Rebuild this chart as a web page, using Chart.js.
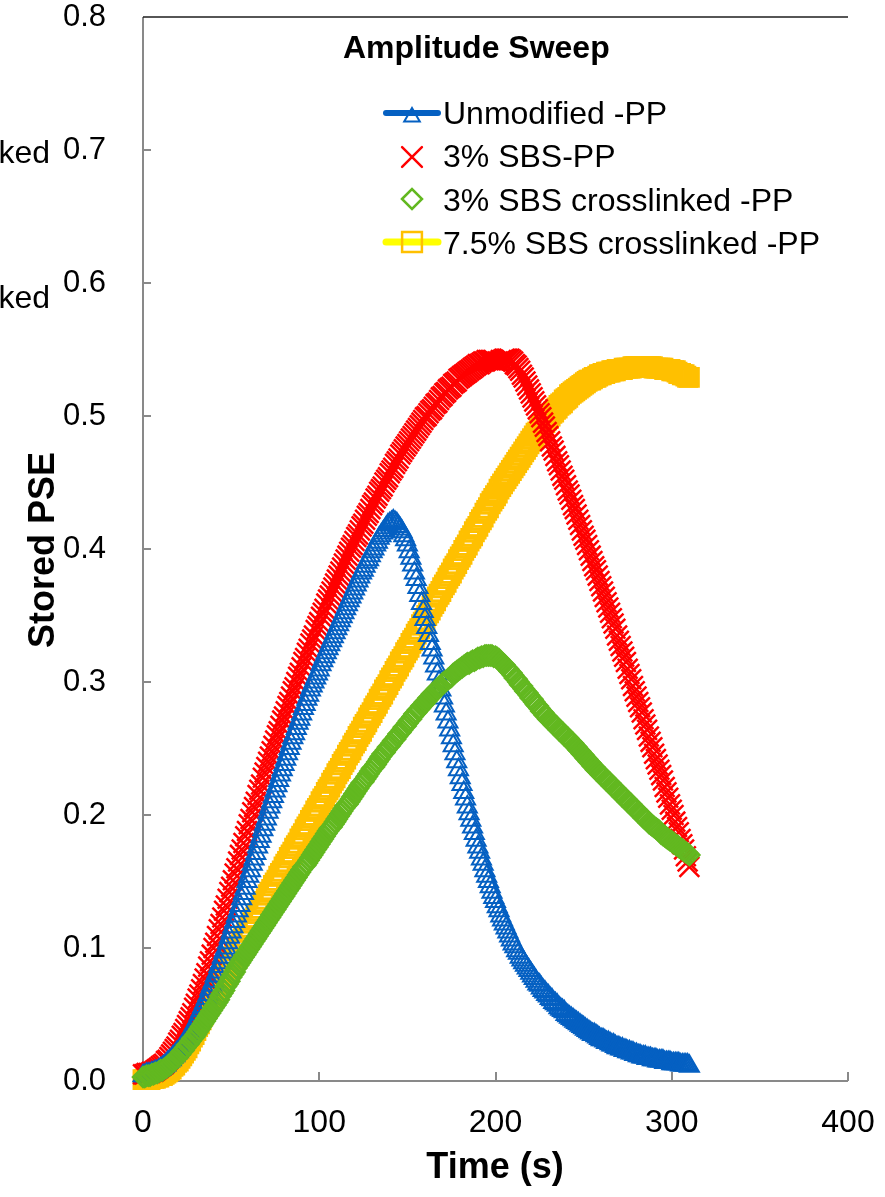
<!DOCTYPE html>
<html>
<head>
<meta charset="utf-8">
<script src="https://cdn.jsdelivr.net/npm/chart.js@4.4.0/dist/chart.umd.min.js"></script>
<style>
  html, body { margin: 0; padding: 0; background: #fff; }
  canvas { display: block; }
</style>
</head>
<body>
<canvas id="sweepChart" width="885" height="1197"></canvas>
<script>
// sample times (s)
const timeSec = [
  0, 1, 2, 3, 4, 5, 6, 7, 8, 9, 10, 11, 12, 13, 14, 15, 16, 17, 18, 19,
  20, 21, 22, 23, 24, 25, 26, 27, 28, 29, 30, 31, 32, 33, 34, 35, 36, 37, 38, 39,
  40, 41, 42, 43, 44, 45, 46, 47, 48, 49, 50, 51, 52, 53, 54, 55, 56, 57, 58, 59,
  60, 61, 62, 63, 64, 65, 66, 67, 68, 69, 70, 71, 72, 73, 74, 75, 76, 77, 78, 79,
  80, 81, 82, 83, 84, 85, 86, 87, 88, 89, 90, 91, 92, 93, 94, 95, 96, 97, 98, 99,
  100, 101, 102, 103, 104, 105, 106, 107, 108, 109, 110, 111, 112, 113, 114, 115, 116, 117, 118, 119,
  120, 121, 122, 123, 124, 125, 126, 127, 128, 129, 130, 131, 132, 133, 134, 135, 136, 137, 138, 139,
  140, 141, 142, 143, 144, 145, 146, 147, 148, 149, 150, 151, 152, 153, 154, 155, 156, 157, 158, 159,
  160, 161, 162, 163, 164, 165, 166, 167, 168, 169, 170, 171, 172, 173, 174, 175, 176, 177, 178, 179,
  180, 181, 182, 183, 184, 185, 186, 187, 188, 189, 190, 191, 192, 193, 194, 195, 196, 197, 198, 199,
  200, 201, 202, 203, 204, 205, 206, 207, 208, 209, 210, 211, 212, 213, 214, 215, 216, 217, 218, 219,
  220, 221, 222, 223, 224, 225, 226, 227, 228, 229, 230, 231, 232, 233, 234, 235, 236, 237, 238, 239,
  240, 241, 242, 243, 244, 245, 246, 247, 248, 249, 250, 251, 252, 253, 254, 255, 256, 257, 258, 259,
  260, 261, 262, 263, 264, 265, 266, 267, 268, 269, 270, 271, 272, 273, 274, 275, 276, 277, 278, 279,
  280, 281, 282, 283, 284, 285, 286, 287, 288, 289, 290, 291, 292, 293, 294, 295, 296, 297, 298, 299,
  300, 301, 302, 303, 304, 305, 306, 307, 308, 309, 310
];

// stored PSE, one value per second
const unmodifiedPP = [
  0.004, 0.004, 0.005, 0.005, 0.005, 0.006, 0.006, 0.007, 0.007, 0.008,
  0.009, 0.010, 0.011, 0.012, 0.014, 0.015, 0.016, 0.018, 0.019, 0.021,
  0.022, 0.024, 0.026, 0.028, 0.030, 0.032, 0.035, 0.037, 0.039, 0.042,
  0.044, 0.047, 0.050, 0.053, 0.056, 0.059, 0.062, 0.065, 0.069, 0.072,
  0.075, 0.079, 0.082, 0.086, 0.089, 0.093, 0.097, 0.100, 0.104, 0.108,
  0.112, 0.116, 0.120, 0.124, 0.128, 0.132, 0.137, 0.141, 0.145, 0.150,
  0.154, 0.158, 0.163, 0.167, 0.171, 0.176, 0.180, 0.184, 0.189, 0.193,
  0.197, 0.202, 0.206, 0.210, 0.214, 0.218, 0.222, 0.226, 0.230, 0.234,
  0.238, 0.242, 0.246, 0.250, 0.254, 0.258, 0.261, 0.265, 0.269, 0.272,
  0.276, 0.280, 0.283, 0.287, 0.290, 0.294, 0.297, 0.300, 0.303, 0.306,
  0.309, 0.313, 0.316, 0.319, 0.322, 0.325, 0.328, 0.331, 0.334, 0.337,
  0.340, 0.343, 0.346, 0.349, 0.352, 0.355, 0.358, 0.361, 0.364, 0.367,
  0.370, 0.373, 0.376, 0.379, 0.382, 0.384, 0.387, 0.390, 0.392, 0.395,
  0.398, 0.400, 0.403, 0.405, 0.408, 0.410, 0.412, 0.414, 0.416, 0.418,
  0.419, 0.420, 0.421, 0.420, 0.419, 0.417, 0.415, 0.413, 0.410, 0.407,
  0.403, 0.398, 0.393, 0.388, 0.382, 0.377, 0.371, 0.365, 0.359, 0.353,
  0.347, 0.341, 0.335, 0.329, 0.324, 0.318, 0.312, 0.306, 0.300, 0.294,
  0.288, 0.282, 0.276, 0.270, 0.264, 0.258, 0.252, 0.246, 0.240, 0.234,
  0.228, 0.223, 0.217, 0.212, 0.206, 0.201, 0.196, 0.191, 0.186, 0.181,
  0.176, 0.172, 0.167, 0.163, 0.158, 0.154, 0.150, 0.146, 0.142, 0.138,
  0.135, 0.131, 0.128, 0.124, 0.121, 0.118, 0.115, 0.112, 0.109, 0.106,
  0.103, 0.101, 0.098, 0.096, 0.093, 0.091, 0.089, 0.087, 0.085, 0.083,
  0.081, 0.079, 0.077, 0.075, 0.073, 0.072, 0.070, 0.068, 0.067, 0.065,
  0.064, 0.062, 0.061, 0.059, 0.058, 0.057, 0.055, 0.054, 0.053, 0.052,
  0.050, 0.049, 0.048, 0.047, 0.046, 0.045, 0.044, 0.043, 0.042, 0.041,
  0.040, 0.039, 0.038, 0.037, 0.036, 0.035, 0.035, 0.034, 0.033, 0.032,
  0.031, 0.031, 0.030, 0.029, 0.029, 0.028, 0.027, 0.027, 0.026, 0.025,
  0.025, 0.024, 0.024, 0.023, 0.023, 0.022, 0.022, 0.021, 0.021, 0.020,
  0.020, 0.019, 0.019, 0.018, 0.018, 0.018, 0.017, 0.017, 0.017, 0.016,
  0.016, 0.016, 0.015, 0.015, 0.015, 0.015, 0.014, 0.014, 0.014, 0.014,
  0.013, 0.013, 0.013, 0.013, 0.013, 0.012, 0.012, 0.012, 0.012, 0.012,
  0.011
];

const sbs3PP = [
  0.005, 0.005, 0.006, 0.006, 0.006, 0.007, 0.007, 0.008, 0.009, 0.010,
  0.011, 0.012, 0.013, 0.015, 0.016, 0.018, 0.020, 0.022, 0.024, 0.026,
  0.029, 0.031, 0.034, 0.036, 0.039, 0.042, 0.045, 0.048, 0.051, 0.055,
  0.058, 0.062, 0.065, 0.069, 0.073, 0.077, 0.081, 0.086, 0.090, 0.095,
  0.100, 0.104, 0.109, 0.114, 0.118, 0.123, 0.128, 0.132, 0.137, 0.142,
  0.146, 0.151, 0.156, 0.160, 0.165, 0.170, 0.174, 0.179, 0.184, 0.188,
  0.193, 0.197, 0.202, 0.206, 0.210, 0.215, 0.219, 0.223, 0.228, 0.232,
  0.236, 0.240, 0.244, 0.248, 0.252, 0.256, 0.260, 0.263, 0.267, 0.271,
  0.274, 0.278, 0.282, 0.285, 0.289, 0.293, 0.296, 0.300, 0.304, 0.307,
  0.311, 0.315, 0.318, 0.322, 0.325, 0.329, 0.332, 0.335, 0.339, 0.342,
  0.345, 0.349, 0.352, 0.355, 0.359, 0.362, 0.365, 0.368, 0.371, 0.374,
  0.377, 0.380, 0.383, 0.386, 0.389, 0.392, 0.395, 0.398, 0.401, 0.403,
  0.406, 0.409, 0.411, 0.414, 0.417, 0.419, 0.422, 0.425, 0.427, 0.430,
  0.433, 0.435, 0.438, 0.440, 0.443, 0.445, 0.447, 0.450, 0.452, 0.454,
  0.457, 0.459, 0.461, 0.464, 0.466, 0.468, 0.471, 0.473, 0.475, 0.477,
  0.479, 0.481, 0.483, 0.485, 0.487, 0.489, 0.491, 0.493, 0.495, 0.497,
  0.499, 0.500, 0.502, 0.504, 0.505, 0.507, 0.509, 0.510, 0.512, 0.514,
  0.515, 0.517, 0.518, 0.520, 0.521, 0.522, 0.524, 0.525, 0.526, 0.528,
  0.529, 0.530, 0.531, 0.532, 0.533, 0.534, 0.535, 0.536, 0.537, 0.538,
  0.539, 0.539, 0.540, 0.541, 0.541, 0.542, 0.542, 0.542, 0.542, 0.542,
  0.541, 0.541, 0.541, 0.542, 0.542, 0.543, 0.543, 0.543, 0.543, 0.542,
  0.541, 0.539, 0.538, 0.536, 0.534, 0.531, 0.529, 0.526, 0.523, 0.520,
  0.517, 0.514, 0.511, 0.508, 0.505, 0.502, 0.499, 0.495, 0.492, 0.488,
  0.485, 0.481, 0.477, 0.474, 0.470, 0.466, 0.463, 0.459, 0.455, 0.452,
  0.448, 0.444, 0.441, 0.437, 0.433, 0.430, 0.426, 0.422, 0.418, 0.414,
  0.410, 0.407, 0.403, 0.399, 0.395, 0.391, 0.387, 0.384, 0.380, 0.376,
  0.372, 0.368, 0.364, 0.360, 0.356, 0.352, 0.348, 0.344, 0.340, 0.335,
  0.331, 0.327, 0.323, 0.319, 0.315, 0.310, 0.306, 0.302, 0.297, 0.293,
  0.289, 0.285, 0.281, 0.277, 0.272, 0.268, 0.264, 0.259, 0.255, 0.251,
  0.246, 0.242, 0.238, 0.234, 0.230, 0.226, 0.221, 0.217, 0.213, 0.208,
  0.204, 0.200, 0.195, 0.191, 0.187, 0.182, 0.178, 0.174, 0.169, 0.165,
  0.161
];

const sbs3CrosslinkedPP = [
  0.003, 0.003, 0.004, 0.004, 0.004, 0.005, 0.005, 0.006, 0.006, 0.007,
  0.008, 0.008, 0.009, 0.010, 0.011, 0.012, 0.013, 0.015, 0.016, 0.017,
  0.019, 0.020, 0.022, 0.023, 0.025, 0.027, 0.028, 0.030, 0.032, 0.033,
  0.035, 0.037, 0.039, 0.041, 0.043, 0.045, 0.047, 0.049, 0.051, 0.053,
  0.055, 0.057, 0.059, 0.061, 0.064, 0.066, 0.068, 0.071, 0.073, 0.075,
  0.078, 0.080, 0.082, 0.085, 0.087, 0.089, 0.091, 0.093, 0.095, 0.097,
  0.099, 0.101, 0.103, 0.105, 0.107, 0.109, 0.111, 0.113, 0.115, 0.117,
  0.119, 0.121, 0.123, 0.125, 0.127, 0.129, 0.131, 0.133, 0.135, 0.137,
  0.139, 0.141, 0.143, 0.145, 0.147, 0.149, 0.151, 0.153, 0.155, 0.157,
  0.159, 0.161, 0.162, 0.164, 0.166, 0.168, 0.170, 0.172, 0.174, 0.176,
  0.178, 0.180, 0.182, 0.184, 0.186, 0.188, 0.190, 0.191, 0.193, 0.195,
  0.197, 0.199, 0.201, 0.203, 0.205, 0.207, 0.208, 0.210, 0.212, 0.214,
  0.216, 0.218, 0.220, 0.222, 0.224, 0.225, 0.227, 0.229, 0.231, 0.233,
  0.235, 0.236, 0.238, 0.240, 0.242, 0.244, 0.246, 0.247, 0.249, 0.251,
  0.252, 0.254, 0.256, 0.257, 0.259, 0.261, 0.262, 0.264, 0.266, 0.267,
  0.269, 0.271, 0.272, 0.274, 0.276, 0.277, 0.279, 0.280, 0.282, 0.283,
  0.285, 0.286, 0.288, 0.289, 0.291, 0.292, 0.293, 0.295, 0.296, 0.297,
  0.299, 0.300, 0.301, 0.302, 0.303, 0.304, 0.306, 0.307, 0.308, 0.309,
  0.310, 0.311, 0.312, 0.313, 0.314, 0.314, 0.315, 0.316, 0.316, 0.317,
  0.318, 0.318, 0.319, 0.319, 0.320, 0.320, 0.320, 0.320, 0.320, 0.319,
  0.319, 0.318, 0.317, 0.315, 0.314, 0.313, 0.311, 0.310, 0.308, 0.307,
  0.305, 0.303, 0.302, 0.300, 0.298, 0.297, 0.295, 0.293, 0.292, 0.290,
  0.288, 0.287, 0.285, 0.283, 0.282, 0.280, 0.278, 0.277, 0.275, 0.274,
  0.272, 0.271, 0.270, 0.268, 0.267, 0.266, 0.264, 0.263, 0.262, 0.260,
  0.259, 0.258, 0.256, 0.255, 0.254, 0.252, 0.251, 0.249, 0.248, 0.246,
  0.245, 0.243, 0.242, 0.240, 0.239, 0.237, 0.236, 0.234, 0.233, 0.232,
  0.230, 0.229, 0.228, 0.226, 0.225, 0.224, 0.222, 0.221, 0.220, 0.218,
  0.217, 0.216, 0.214, 0.213, 0.212, 0.210, 0.209, 0.208, 0.206, 0.205,
  0.204, 0.202, 0.201, 0.200, 0.198, 0.197, 0.196, 0.194, 0.193, 0.192,
  0.191, 0.190, 0.189, 0.188, 0.186, 0.185, 0.184, 0.183, 0.182, 0.181,
  0.180, 0.179, 0.178, 0.177, 0.176, 0.175, 0.174, 0.173, 0.172, 0.171,
  0.170
];

const sbs75CrosslinkedPP = [
  0.001, 0.001, 0.001, 0.001, 0.001, 0.002, 0.002, 0.002, 0.003, 0.003,
  0.004, 0.004, 0.005, 0.006, 0.007, 0.008, 0.009, 0.011, 0.012, 0.014,
  0.015, 0.017, 0.019, 0.021, 0.023, 0.025, 0.028, 0.030, 0.033, 0.035,
  0.038, 0.041, 0.043, 0.046, 0.049, 0.052, 0.055, 0.058, 0.061, 0.064,
  0.067, 0.069, 0.072, 0.074, 0.077, 0.079, 0.081, 0.084, 0.086, 0.088,
  0.091, 0.093, 0.095, 0.098, 0.100, 0.102, 0.105, 0.107, 0.109, 0.112,
  0.114, 0.116, 0.119, 0.121, 0.123, 0.126, 0.128, 0.130, 0.133, 0.135,
  0.137, 0.140, 0.142, 0.144, 0.147, 0.149, 0.151, 0.154, 0.156, 0.158,
  0.161, 0.163, 0.165, 0.168, 0.170, 0.172, 0.175, 0.177, 0.179, 0.182,
  0.184, 0.186, 0.189, 0.191, 0.193, 0.196, 0.198, 0.200, 0.203, 0.205,
  0.207, 0.210, 0.212, 0.214, 0.217, 0.219, 0.221, 0.224, 0.226, 0.228,
  0.231, 0.233, 0.235, 0.238, 0.240, 0.242, 0.245, 0.247, 0.249, 0.252,
  0.254, 0.256, 0.259, 0.261, 0.263, 0.266, 0.268, 0.270, 0.273, 0.275,
  0.277, 0.280, 0.282, 0.284, 0.287, 0.289, 0.291, 0.294, 0.296, 0.298,
  0.301, 0.303, 0.305, 0.308, 0.310, 0.312, 0.315, 0.317, 0.319, 0.322,
  0.324, 0.326, 0.329, 0.331, 0.333, 0.336, 0.338, 0.340, 0.343, 0.345,
  0.347, 0.350, 0.352, 0.354, 0.357, 0.359, 0.361, 0.364, 0.366, 0.368,
  0.371, 0.373, 0.375, 0.378, 0.380, 0.382, 0.385, 0.387, 0.389, 0.392,
  0.394, 0.396, 0.399, 0.401, 0.403, 0.406, 0.408, 0.410, 0.413, 0.415,
  0.417, 0.420, 0.422, 0.424, 0.427, 0.429, 0.431, 0.434, 0.436, 0.438,
  0.440, 0.442, 0.445, 0.447, 0.449, 0.451, 0.453, 0.455, 0.457, 0.459,
  0.461, 0.463, 0.465, 0.467, 0.469, 0.471, 0.473, 0.475, 0.477, 0.479,
  0.481, 0.483, 0.485, 0.487, 0.488, 0.490, 0.492, 0.493, 0.495, 0.497,
  0.498, 0.500, 0.502, 0.503, 0.505, 0.506, 0.508, 0.509, 0.510, 0.512,
  0.513, 0.514, 0.516, 0.517, 0.518, 0.519, 0.520, 0.521, 0.522, 0.523,
  0.524, 0.525, 0.526, 0.527, 0.527, 0.528, 0.529, 0.529, 0.530, 0.531,
  0.531, 0.532, 0.532, 0.533, 0.533, 0.533, 0.534, 0.534, 0.534, 0.535,
  0.535, 0.535, 0.535, 0.536, 0.536, 0.536, 0.536, 0.536, 0.537, 0.537,
  0.537, 0.537, 0.537, 0.537, 0.537, 0.537, 0.537, 0.537, 0.537, 0.537,
  0.536, 0.536, 0.536, 0.536, 0.536, 0.536, 0.535, 0.535, 0.535, 0.535,
  0.534, 0.534, 0.534, 0.533, 0.532, 0.532, 0.531, 0.531, 0.530, 0.529,
  0.529
];

const seriesNames = [
  "Unmodified -PP",
  "3% SBS-PP",
  "3% SBS crosslinked -PP",
  "7.5% SBS crosslinked -PP"
];
const xTickValues = [0, 100, 200, 300, 400];
const yTickValues = [0, 0.1, 0.2, 0.3, 0.4, 0.5, 0.6, 0.7, 0.8];

const FONT = "'Liberation Sans', Arial, sans-serif";
const BLUE = '#0560c2';
const RED = '#ff0000';
const GREEN = '#62b820';
const ORANGE = '#ffc000';
const AXIS_GREY = '#898989';

// axes, inward tick marks and the dark top rule, drawn under the markers
const axesUnder = {
  id: 'axesUnder',
  beforeDatasetsDraw(chart) {
    const { ctx, chartArea: a, scales: { x, y } } = chart;
    ctx.save();
    ctx.strokeStyle = AXIS_GREY;
    ctx.lineWidth = 2;
    ctx.beginPath();
    ctx.moveTo(a.left, a.top);
    ctx.lineTo(a.left, a.bottom);
    ctx.lineTo(a.right, a.bottom);
    yTickValues.slice(1, -1).forEach(v => {
      const py = Math.round(y.getPixelForValue(v));
      ctx.moveTo(a.left, py);
      ctx.lineTo(a.left + 8, py);
    });
    xTickValues.slice(1).forEach(t => {
      const px = Math.round(x.getPixelForValue(t));
      ctx.moveTo(px, a.bottom);
      ctx.lineTo(px, a.bottom - 9);
    });
    ctx.stroke();
    ctx.strokeStyle = '#1e1e1e';
    ctx.lineWidth = 1.5;
    ctx.beginPath();
    ctx.moveTo(a.left, a.top);
    ctx.lineTo(a.right, a.top);
    ctx.stroke();
    ctx.restore();
  }
};

// titles, legend and the cut-off labels at the left edge
const overlay = {
  id: 'overlay',
  afterDraw(chart) {
    const { ctx } = chart;
    const H = Chart.helpers;
    ctx.save();
    ctx.fillStyle = '#000';

    ctx.font = `bold 32px ${FONT}`;
    ctx.textAlign = 'left';
    ctx.textBaseline = 'alphabetic';
    ctx.fillText('Amplitude Sweep', 343, 58);

    ctx.font = `bold 36px ${FONT}`;
    ctx.textAlign = 'center';
    ctx.fillText('Time (s)', 495, 1178);
    ctx.save();
    ctx.translate(54, 550);
    ctx.rotate(-Math.PI / 2);
    ctx.fillText('Stored PSE', 0, 0);
    ctx.restore();

    ctx.font = `32px ${FONT}`;
    ctx.textAlign = 'right';
    ctx.fillText('crosslinked', 50, 163);
    ctx.fillText('crosslinked', 50, 308);

    // legend
    const rows = [124, 167, 211, 254];
    const mx = 412;
    ctx.textAlign = 'left';
    seriesNames.forEach((name, i) => {
      ctx.fillStyle = '#000';
      ctx.fillText(name, 443, rows[i]);
    });

    ctx.lineCap = 'round';
    ctx.strokeStyle = BLUE;
    ctx.lineWidth = 6;
    ctx.beginPath();
    ctx.moveTo(386, 113);
    ctx.lineTo(438, 113);
    ctx.stroke();
    ctx.fillStyle = 'rgba(0,0,0,0)';
    ctx.lineWidth = 2;
    H.drawPoint(ctx, { pointStyle: 'triangle', radius: 9, rotation: 0, borderWidth: 2 }, mx, 117);

    ctx.strokeStyle = RED;
    ctx.lineWidth = 2.5;
    H.drawPoint(ctx, { pointStyle: 'crossRot', radius: 14, rotation: 0, borderWidth: 2.5 }, mx, 157);

    ctx.strokeStyle = GREEN;
    H.drawPoint(ctx, { pointStyle: 'rectRot', radius: 10, rotation: 0, borderWidth: 2.5 }, mx, 199);

    ctx.strokeStyle = '#ffff00';
    ctx.lineWidth = 7;
    ctx.beginPath();
    ctx.moveTo(386, 242);
    ctx.lineTo(438, 242);
    ctx.stroke();
    ctx.strokeStyle = ORANGE;
    ctx.lineWidth = 2.5;
    H.drawPoint(ctx, { pointStyle: 'rect', radius: 14, rotation: 0, borderWidth: 2.5 }, mx, 242);

    ctx.restore();
  }
};

function markerSet(label, data, style, radius, colour, width, order) {
  return {
    label,
    data,
    showLine: false,
    pointStyle: style,
    pointRadius: radius,
    pointHoverRadius: radius,
    pointBorderWidth: width,
    pointBorderColor: colour,
    pointBackgroundColor: 'rgba(0,0,0,0)',
    clip: false,
    order
  };
}

new Chart(document.getElementById('sweepChart'), {
  type: 'line',
  data: {
    labels: timeSec,
    datasets: [
      markerSet(seriesNames[0], unmodifiedPP, 'triangle', 11, BLUE, 2, 2),
      markerSet(seriesNames[1], sbs3PP, 'crossRot', 14, RED, 2.5, 3),
      markerSet(seriesNames[2], sbs3CrosslinkedPP, 'rectRot', 10, GREEN, 2.5, 1),
      markerSet(seriesNames[3], sbs75CrosslinkedPP, 'rect', 13, ORANGE, 2.5, 4)
    ]
  },
  options: {
    responsive: false,
    animation: false,
    devicePixelRatio: 1,
    layout: { padding: { top: 17, right: 37, left: 0, bottom: 0 } },
    plugins: { legend: { display: false }, tooltip: { enabled: false } },
    scales: {
      x: {
        type: 'linear',
        min: 0,
        max: 400,
        grid: { display: false },
        border: { display: false },
        afterBuildTicks: s => { s.ticks = xTickValues.map(v => ({ value: v })); },
        afterFit: s => { s.height = 116; s.paddingLeft = 0; s.paddingRight = 0; },
        ticks: { autoSkip: false, maxRotation: 0, padding: 15, color: '#000', font: { family: FONT, size: 32 } }
      },
      y: {
        min: 0,
        max: 0.8,
        grid: { display: false },
        border: { display: false },
        afterBuildTicks: s => { s.ticks = yTickValues.map(v => ({ value: v })); },
        afterFit: s => { s.width = 143; s.paddingTop = 0; s.paddingBottom = 0; },
        ticks: {
          padding: 29,
          color: '#000',
          font: { family: FONT, size: 31 },
          callback: v => v.toFixed(1)
        }
      }
    }
  },
  plugins: [axesUnder, overlay]
});
</script>
</body>
</html>
